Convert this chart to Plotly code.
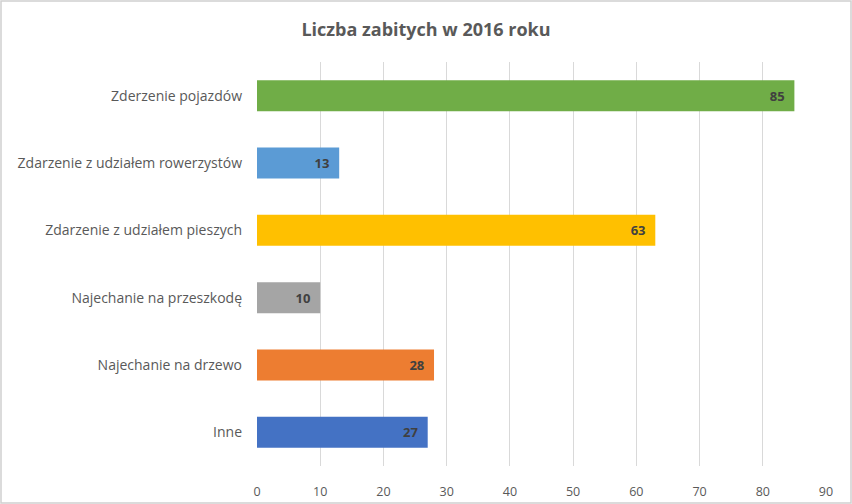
import plotly.graph_objects as go

categories = ["Zderzenie pojazdów", "Zdarzenie z udziałem rowerzystów", "Zdarzenie z udziałem pieszych",
              "Najechanie na przeszkodę", "Najechanie na drzewo", "Inne"]
values = [85, 13, 63, 10, 28, 27]
colors = ["#70AD47", "#5B9BD5", "#FFC000", "#A5A5A5", "#ED7D31", "#4472C4"]
tick_vals = [0, 10, 20, 30, 40, 50, 60, 70, 80, 90]

W, H = 852, 504
L, R, T, B = 257, 26, 62, 38

fig = go.Figure(go.Bar(
    y=categories, x=values, orientation="h",
    marker=dict(color=colors, line=dict(width=0)),
    text=[str(v) + "\u00a0\u00a0" for v in values], textposition="inside", insidetextanchor="end",
    textfont=dict(family="Open Sans", size=13, color="#404040", weight="bold"),
    cliponaxis=False,
))

pw, ph = W - L - R, H - T - B
fig.add_shape(type="rect", xref="paper", yref="paper",
              x0=(1 - L) / pw, x1=(W - 1 - L) / pw,
              y0=(H - B - (H - 1)) / ph, y1=(H - B - 1) / ph,
              line=dict(color="#d0d0d0", width=1.5), fillcolor="rgba(0,0,0,0)", layer="below")

fig.update_layout(
    width=W, height=H, autosize=False,
    margin=dict(l=L, r=R, t=T, b=B, autoexpand=False),
    paper_bgcolor="white", plot_bgcolor="white",
    title=dict(text="Liczba zabitych w 2016 roku", x=0.5, xanchor="center", y=1 - 30 / H, yanchor="middle",
               font=dict(family="Open Sans", size=18, color="#595959", weight="bold")),
    bargap=0.54,
    showlegend=False,
    xaxis=dict(range=[0, 90], tickvals=tick_vals, showgrid=True, gridcolor="#d9d9d9", gridwidth=1,
               zeroline=False, showline=False, ticks="", ticklabelstandoff=16, automargin=False,
               tickfont=dict(family="Open Sans", size=12.5, color="#595959")),
    yaxis=dict(categoryorder="array", categoryarray=categories[::-1], showgrid=False, zeroline=False,
               showline=False, ticks="", ticklabelstandoff=14, automargin=False,
               tickfont=dict(family="Open Sans", size=14, color="#595959")),
    font=dict(family="Open Sans"),
)

fig.write_html("out.html",
               config={"displayModeBar": False, "responsive": False},
               post_script="document.body.style.margin='0';document.body.style.overflow='hidden';")
